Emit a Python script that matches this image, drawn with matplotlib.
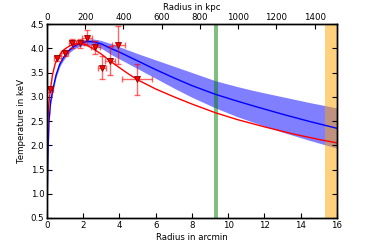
import matplotlib
matplotlib.use('Agg')
import matplotlib.pyplot as plt

# kpc per arcmin for the top axis
kpc_per_arcmin = 94.8

# measured temperature profile (arcmin, keV)
r_obs = [0.17, 0.57, 0.98, 1.40, 1.82, 2.22, 2.67, 3.05, 3.46, 3.92, 4.98]
r_err = [0.17, 0.18, 0.20, 0.20, 0.22, 0.28, 0.26, 0.23, 0.28, 0.36, 0.83]
t_obs = [3.15, 3.79, 3.91, 4.10, 4.10, 4.22, 4.02, 3.60, 3.74, 4.07, 3.36]
t_err = [0.05, 0.05, 0.06, 0.09, 0.10, 0.15, 0.14, 0.24, 0.30, 0.39, 0.32]

# red model curve
r_red = [0.0, 0.02, 0.05, 0.1, 0.17, 0.3, 0.45, 0.6, 0.8, 1.0, 1.3, 1.7, 2.1,
         2.5, 3.0, 3.5, 4.0, 4.5, 5.0, 6.0, 7.0, 8.0, 9.3, 10.5, 12.0, 13.5,
         15.0, 16.0]
t_red = [1.2, 2.0, 2.5, 2.85, 3.1, 3.45, 3.68, 3.8, 3.92, 3.99, 4.06, 4.1, 4.08,
         4.0, 3.88, 3.73, 3.6, 3.47, 3.35, 3.16, 3.0, 2.85, 2.67, 2.53, 2.38,
         2.24, 2.12, 2.05]

# blue model curve with its band
r_blue = [0.0, 0.03, 0.06, 0.11, 0.2, 0.35, 0.5, 0.7, 0.9, 1.2, 1.5, 1.8, 2.2,
          2.6, 3.0, 3.5, 4.0, 5.0, 6.0, 7.0, 8.0, 9.3, 10.5, 11.5, 13.0, 14.5,
          16.0]
t_blue = [0.5, 1.3, 1.9, 2.5, 2.9, 3.2, 3.45, 3.67, 3.8, 3.95, 4.04, 4.1, 4.14,
          4.13, 4.09, 4.0, 3.92, 3.74, 3.56, 3.39, 3.23, 3.05, 2.91, 2.8, 2.64,
          2.49, 2.35]
t_blue_hi = [0.5, 1.35, 1.95, 2.55, 2.95, 3.25, 3.5, 3.72, 3.85, 4.0, 4.09,
             4.15, 4.19, 4.19, 4.16, 4.1, 4.03, 3.89, 3.76, 3.63, 3.5, 3.33,
             3.21, 3.12, 3.0, 2.88, 2.77]
t_blue_lo = [0.5, 1.25, 1.85, 2.45, 2.85, 3.15, 3.4, 3.62, 3.75, 3.9, 3.99,
             4.04, 4.08, 4.06, 4.0, 3.88, 3.78, 3.58, 3.38, 3.18, 2.99, 2.77,
             2.59, 2.46, 2.27, 2.1, 1.94]

# marked radii (arcmin)
green_span = (9.23, 9.42)
orange_span = (15.35, 16.2)

fig = plt.figure(figsize=(3.74, 2.49), dpi=100)
ax = fig.add_axes([0.1257, 0.1245, 0.775, 0.779])

ax.fill_between(r_blue, t_blue_lo, t_blue_hi, color='blue', alpha=0.5, lw=0)
ax.plot(r_blue, t_blue, color='blue', lw=1)
ax.plot(r_red, t_red, color='red', lw=1)
ax.errorbar(r_obs, t_obs, xerr=r_err, yerr=t_err, fmt='none',
            ecolor='red', alpha=0.6, elinewidth=1, capsize=2.5)
ax.plot(r_obs, t_obs, 'v', color='red', ms=4.5, mec='darkred', mew=0.6)
ax.axvspan(*green_span, color='green', alpha=0.5, lw=0)
ax.axvspan(*orange_span, color='orange', alpha=0.5, lw=0)

ax.set_xlim(0, 16)
ax.set_ylim(0.5, 4.5)
ax.set_xticks(range(0, 17, 2))
ax.set_yticks([0.5 * i for i in range(1, 10)])
ax.set_xlabel('Radius in arcmin', fontsize=6.2, labelpad=2)
ax.set_ylabel('Temperature in keV', fontsize=6.2, labelpad=3)
ax.tick_params(direction='in', length=3.5, labelsize=6.2, right=True,
               top=False, pad=2)

ax2 = ax.twiny()
ax2.set_xlim(0, 16 * kpc_per_arcmin)
ax2.set_xticks(range(0, 1401, 200))
ax2.set_xlabel('Radius in kpc', fontsize=6.2, labelpad=2)
ax2.tick_params(direction='in', length=3.5, labelsize=6.2, pad=1.5)

for a in (ax, ax2):
    for s in a.spines.values():
        s.set_linewidth(1.0)

fig.savefig('out.png', dpi=100)
